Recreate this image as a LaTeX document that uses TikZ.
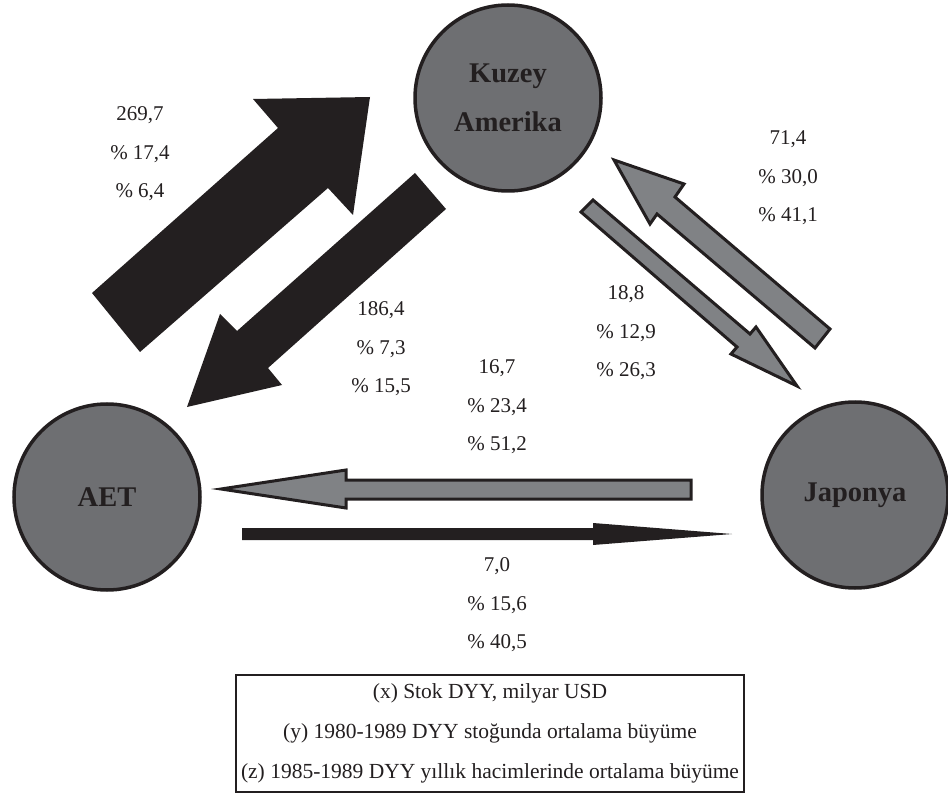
\documentclass[tikz,border=0pt]{standalone}
\usepackage{fontspec}
\setmainfont{Liberation Serif}
\definecolor{circfill}{HTML}{6E6F72}
\definecolor{arrgray}{HTML}{808285}
\definecolor{blk}{HTML}{231F20}
\begin{document}
\begin{tikzpicture}[x=1pt,y=-1pt,
  country/.style={circle, draw=blk, line width=3.5pt, fill=circfill, minimum size=186pt, inner sep=0pt,
    align=center, text=blk, font=\bfseries\fontsize{28.5}{49}\selectfont},
  blackarrow/.style={fill=blk, draw=none},
  grayarrow/.style={fill=arrgray, draw=blk, line width=3pt, line join=miter},
  numlabel/.style={align=center, inner sep=0pt, text=blk, font=\fontsize{21}{38.5}\selectfont},
  legendbox/.style={draw=blk, line width=1.2pt, minimum width=508pt, minimum height=117pt, inner sep=0pt,
    align=center, text=blk, font=\fontsize{21.5}{40}\selectfont}]
\useasboundingbox (0,0) rectangle (948,794);

% countries
\node[country] (ka) at (508,98) {Kuzey\\Amerika};
\node[country] (aet) at (107,497) {AET};
\node[country] (jp) at (855,495) {Japonya};

% AET -> Kuzey Amerika (black, large)
\fill[blackarrow] (92,293) -- (278,128) -- (253,99) -- (370,97) -- (353,215) -- (328,188) -- (140,352) -- cycle;
% Kuzey Amerika -> AET (black)
\fill[blackarrow] (415,173) -- (446,209) -- (268,368) -- (282,385) -- (187,407) -- (220,314) -- (237,331) -- cycle;
% Japonya -> Kuzey Amerika (gray)
\filldraw[grayarrow] (614,160) -- (684,184) -- (675,197) -- (830,329) -- (815,348) -- (657,214) -- (650,224) -- cycle;
% Kuzey Amerika -> Japonya (gray)
\filldraw[grayarrow] (581,212) -- (593,200) -- (750,334) -- (756,327) -- (797,386) -- (731,354) -- (737,347) -- cycle;
% Japonya -> AET (gray)
\filldraw[grayarrow] (221,489) -- (346,470) -- (346,480) -- (691,480) -- (691,499) -- (346,499) -- (346,508) -- cycle;
% AET -> Japonya (black)
\fill[blackarrow] (242,528) -- (593,528) -- (593,523) -- (732,534) -- (593,545) -- (593,540) -- (242,540) -- cycle;

% numbers
\node[numlabel] (n1) at (140,154) {269,7\\\% 17,4\\\% 6,4};
\node[numlabel] (n2) at (381,349) {186,4\\\% 7,3\\\% 15,5};
\node[numlabel] (n3) at (788,178) {71,4\\\% 30,0\\\% 41,1};
\node[numlabel] (n4) at (626,333) {18,8\\\% 12,9\\\% 26,3};
\node[numlabel] (n5) at (497,407) {16,7\\\% 23,4\\\% 51,2};
\node[numlabel] (n6) at (497,605) {7,0\\\% 15,6\\\% 40,5};

% legend
\node[legendbox] (legend) at (490,733.5) {(x) Stok DYY, milyar USD\\(y) 1980-1989 DYY stoğunda ortalama büyüme\\(z) 1985-1989 DYY yıllık hacimlerinde ortalama büyüme};
\end{tikzpicture}
\end{document}
